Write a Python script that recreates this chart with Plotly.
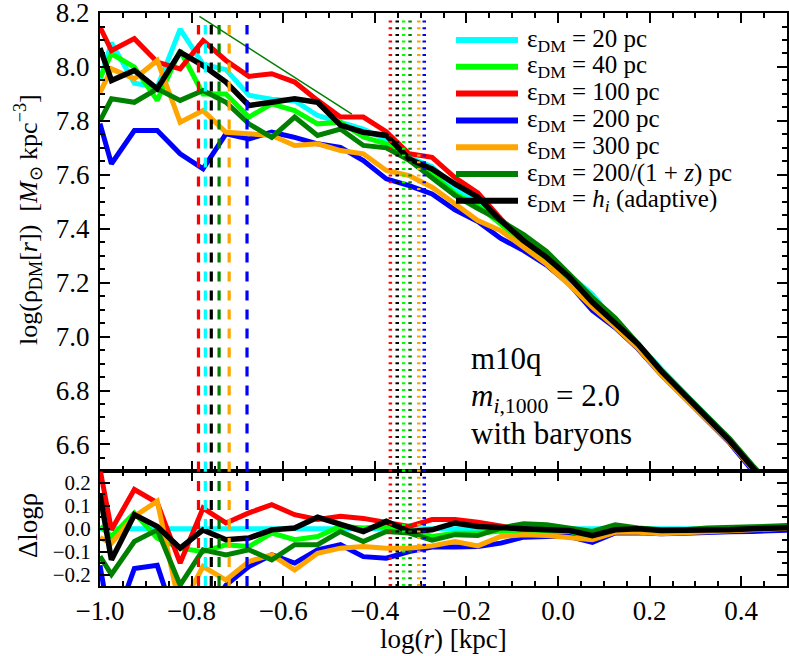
import plotly.graph_objects as go
from plotly.subplots import make_subplots

# radial bins, log10(r / kpc)
log_r = [-1.0, -0.975, -0.925, -0.875, -0.825, -0.775, -0.725, -0.675, -0.625, -0.575,
         -0.525, -0.475, -0.425, -0.375, -0.325, -0.275, -0.225, -0.175, -0.125, -0.075,
         -0.025, 0.025, 0.075, 0.125, 0.175, 0.225, 0.275, 0.325, 0.375, 0.425, 0.475, 0.525]

# log rho_DM [Msun kpc^-3]
rho_20pc = [7.95, 8.09, 7.94, 7.925, 8.14, 8.01, 7.99, 7.895, 7.88, 7.875, 7.82, 7.795,
            7.77, 7.73, 7.665, 7.63, 7.55, 7.505, 7.427, 7.356, 7.299, 7.228, 7.157, 7.052,
            6.972, 6.881, 6.795, 6.705, 6.618, 6.514, 6.42, 6.325]
rho_40pc = [7.96, 8.049, 7.999, 7.876, 8.061, 7.90, 7.90, 7.814, 7.863, 7.838, 7.789, 7.795,
            7.74, 7.715, 7.654, 7.604, 7.53, 7.485, 7.417, 7.346, 7.289, 7.213, 7.117, 7.042,
            6.962, 6.871, 6.785, 6.695, 6.608, 6.509, 6.42, 6.325]
rho_100pc = [8.148, 8.061, 8.105, 8.018, 7.993, 8.098, 8.024, 7.965, 7.975, 7.944, 7.876, 7.814,
             7.814, 7.76, 7.678, 7.665, 7.59, 7.533, 7.437, 7.351, 7.299, 7.223, 7.127, 7.047,
             6.962, 6.871, 6.785, 6.695, 6.613, 6.509, 6.42, 6.325]
rho_200pc = [7.79, 7.641, 7.764, 7.764, 7.678, 7.622, 7.752, 7.733, 7.758, 7.739, 7.715, 7.702,
             7.653, 7.585, 7.56, 7.529, 7.47, 7.427, 7.364, 7.319, 7.265, 7.194, 7.097, 7.033,
             6.954, 6.859, 6.775, 6.69, 6.605, 6.502, 6.412, 6.32]
rho_300pc = [7.905, 7.993, 7.956, 8.024, 7.795, 7.838, 7.758, 7.752, 7.746, 7.709, 7.715, 7.69,
             7.678, 7.616, 7.597, 7.554, 7.494, 7.43, 7.393, 7.33, 7.269, 7.191, 7.109, 7.036,
             6.956, 6.859, 6.776, 6.693, 6.608, 6.509, 6.42, 6.33]
rho_200z = [7.80, 7.882, 7.869, 7.919, 7.876, 7.913, 7.869, 7.789, 7.739, 7.814, 7.746, 7.77,
            7.709, 7.70, 7.654, 7.591, 7.524, 7.475, 7.43, 7.378, 7.316, 7.231, 7.145, 7.069,
            6.975, 6.876, 6.79, 6.708, 6.621, 6.522, 6.432, 6.34]
rho_adapt = [8.07, 7.95, 7.987, 7.919, 8.055, 8.005, 7.944, 7.857, 7.869, 7.882, 7.869, 7.784,
             7.758, 7.746, 7.659, 7.622, 7.566, 7.517, 7.43, 7.356, 7.294, 7.22, 7.127, 7.047,
             6.972, 6.873, 6.787, 6.70, 6.613, 6.514, 6.42, 6.33]

# delta log rho relative to the 20 pc run
d_20pc = [0.0, 0.0, 0.0, 0.0, 0.0, 0.0, 0.0, 0.0, 0.0, 0.0, 0.0, 0.0, 0.0, 0.0, 0.0, 0.0,
          0.0, 0.0, 0.0, 0.0, 0.0, 0.0, 0.0, 0.0, 0.0, 0.0, 0.0, 0.0, 0.0, 0.0, 0.0, 0.0]
d_40pc = [0.01, -0.034, 0.069, -0.041, -0.085, -0.10, -0.07, -0.078, -0.019, -0.048, -0.034, 0.01,
          0.003, 0.01, -0.005, -0.034, -0.02, -0.02, -0.01, -0.01, -0.01, -0.015, -0.04, -0.01,
          -0.01, -0.01, -0.01, -0.01, -0.01, -0.005, 0.0, 0.0]
d_100pc = [0.26, -0.005, 0.171, 0.113, -0.15, 0.09, 0.025, 0.069, 0.105, 0.061, 0.04, 0.054,
           0.045, 0.03, 0.01, 0.04, 0.04, 0.028, 0.01, -0.005, 0.0, -0.005, -0.03, -0.005,
           -0.01, -0.01, -0.01, -0.01, -0.005, -0.005, 0.0, 0.0]
d_200pc = [-0.16, -0.45, -0.174, -0.16, -0.46, -0.41, -0.246, -0.165, -0.114, -0.15, -0.092, -0.07,
           -0.122, -0.129, -0.10, -0.08, -0.08, -0.078, -0.063, -0.037, -0.034, -0.034, -0.06, -0.019,
           -0.018, -0.022, -0.02, -0.015, -0.013, -0.012, -0.008, -0.005]
d_300pc = [-0.04, -0.063, 0.054, 0.12, -0.35, -0.165, -0.224, -0.143, -0.114, -0.18, -0.107, -0.085,
           -0.078, -0.085, -0.085, -0.075, -0.056, -0.075, -0.034, -0.026, -0.03, -0.037, -0.048, -0.016,
           -0.016, -0.022, -0.019, -0.012, -0.01, -0.005, 0.0, 0.005]
d_200z = [-0.12, -0.2, -0.056, -0.005, -0.246, -0.092, -0.114, -0.092, -0.136, -0.07, -0.07, -0.012,
          -0.056, -0.012, -0.019, -0.05, -0.026, -0.03, 0.003, 0.022, 0.017, 0.003, -0.012, 0.017,
          0.003, -0.005, -0.005, 0.003, 0.003, 0.008, 0.012, 0.015]
d_adapt = [0.15, -0.136, 0.061, 0.01, -0.085, -0.005, -0.048, -0.041, -0.005, 0.003, 0.05, 0.017,
           -0.012, 0.032, -0.012, -0.005, 0.025, 0.01, 0.003, 0.0, -0.005, -0.008, -0.03, -0.005,
           0.0, -0.008, -0.008, -0.005, -0.005, 0.0, 0.0, 0.005]

labels = [
    "ε<sub>DM</sub> = 20 pc",
    "ε<sub>DM</sub> = 40 pc",
    "ε<sub>DM</sub> = 100 pc",
    "ε<sub>DM</sub> = 200 pc",
    "ε<sub>DM</sub> = 300 pc",
    "ε<sub>DM</sub> = 200/(1 + <i>z</i>) pc",
    "ε<sub>DM</sub> = <i>h<sub>i</sub></i> (adaptive)",
]
colors = ["#00ffff", "#00ff00", "#ff0000", "#0000ff", "#ffa500", "#008000", "#000000"]
profiles = [rho_20pc, rho_40pc, rho_100pc, rho_200pc, rho_300pc, rho_200z, rho_adapt]
deltas = [d_20pc, d_40pc, d_100pc, d_200pc, d_300pc, d_200z, d_adapt]

# convergence radii (dashed) and softening-related radii (dotted), log kpc
dashed_r = [-0.785, -0.770, -0.757, -0.740, -0.718, -0.679]
dashed_colors = ["#ff0000", "#00ffff", "#000000", "#008000", "#ffa500", "#0000ff"]
dotted_r = [-0.366, -0.351, -0.337, -0.323, -0.304, -0.292]
dotted_colors = ["#ff0000", "#000000", "#00ff00", "#008000", "#ffa500", "#0000ff"]

# reference power-law guide
guide_x = [-0.783, -0.45]
guide_y = [8.188, 7.825]

FONT = "Liberation Serif"
W, H = 789, 656
ML, MR, MT, MB = 100, 2, 13, 70

fig = make_subplots(rows=2, cols=1, shared_xaxes=True, vertical_spacing=0,
                    row_heights=[0.8, 0.2])

for prof, d, col in zip(profiles, deltas, colors):
    lw = 5.5 if col == "#000000" else 5
    fig.add_trace(go.Scatter(x=log_r, y=prof, mode="lines",
                             line=dict(color=col, width=lw), showlegend=False), row=1, col=1)
    fig.add_trace(go.Scatter(x=log_r, y=d, mode="lines",
                             line=dict(color=col, width=lw), showlegend=False), row=2, col=1)

fig.add_trace(go.Scatter(x=guide_x, y=guide_y, mode="lines",
                         line=dict(color="#008000", width=1.5), showlegend=False), row=1, col=1)

for r, c in zip(dashed_r, dashed_colors):
    fig.add_shape(type="line", xref="x", yref="y domain", x0=r, x1=r, y0=0, y1=0.974,
                  line=dict(color=c, width=3.2, dash="10px,9px"))
    fig.add_shape(type="line", xref="x2", yref="y2 domain", x0=r, x1=r, y0=0, y1=1,
                  line=dict(color=c, width=3.2, dash="10px,9px"))
for r, c in zip(dotted_r, dotted_colors):
    fig.add_shape(type="line", xref="x", yref="y domain", x0=r, x1=r, y0=0, y1=0.99,
                  line=dict(color=c, width=3.5, dash="2px,4.7px"))
    fig.add_shape(type="line", xref="x2", yref="y2 domain", x0=r, x1=r, y0=0, y1=1,
                  line=dict(color=c, width=3.5, dash="2px,4.7px"))

# legend drawn by hand so the handles are as long as in the original
ph = H - MT - MB
pw = W - ML - MR
def px_to_paper(xp, yp):
    return (xp - ML) / pw, 1 - (yp - MT) / ph

for i, (lab, col) in enumerate(zip(labels, colors)):
    yp = 40 + 26.8 * i
    x0, y = px_to_paper(456, yp)
    x1, _ = px_to_paper(518, yp)
    xt, _ = px_to_paper(525, yp)
    fig.add_shape(type="line", xref="paper", yref="paper", x0=x0, x1=x1, y0=y, y1=y,
                  line=dict(color=col, width=6))
    fig.add_annotation(xref="paper", yref="paper", x=xt, y=y, text=lab, showarrow=False,
                       xanchor="left", yanchor="middle",
                       font=dict(family=FONT, size=25, color="black"))

for txt, yv in [("m10q", 6.92), ("<i>m</i><sub><i>i</i>,1000</sub> = 2.0", 6.772),
                ("with baryons", 6.64)]:
    fig.add_annotation(xref="x", yref="y", x=-0.195, y=yv, text=txt, showarrow=False,
                       xanchor="left", yanchor="middle",
                       font=dict(family=FONT, size=31, color="black"))

# axis titles
fig.add_annotation(xref="paper", yref="paper", x=0, y=px_to_paper(0, 220)[1], xshift=-72,
                   text="log(ρ<sub>DM</sub>[<i>r</i>])  [<i>M</i><sub>⊙</sub> kpc<sup>−3</sup>]",
                   textangle=-90, showarrow=False, xanchor="center", yanchor="middle",
                   font=dict(family=FONT, size=26, color="black"))
fig.add_annotation(xref="paper", yref="paper", x=0, y=px_to_paper(0, 526)[1], xshift=-72,
                   text="Δlogρ", textangle=-90, showarrow=False,
                   xanchor="center", yanchor="middle",
                   font=dict(family=FONT, size=27, color="black"))
fig.add_annotation(xref="paper", yref="paper", x=0.5, y=0, yshift=-53,
                   text="log(<i>r</i>) [kpc]", showarrow=False,
                   xanchor="center", yanchor="middle",
                   font=dict(family=FONT, size=27, color="black"))

axis_common = dict(showline=True, linecolor="black", linewidth=2, mirror="allticks",
                   ticks="inside", ticklen=10, tickwidth=1.5, tickcolor="black",
                   showgrid=False, zeroline=False, automargin=False,
                   ticklabeloverflow="allow")
minor_common = dict(ticks="inside", ticklen=5, tickwidth=1.5, tickcolor="black")

fig.update_xaxes(range=[-1.0, 0.5], tick0=0, dtick=0.2, tickformat=".1f",
                 minor=dict(tick0=0, dtick=0.05, **minor_common),
                 tickfont=dict(family=FONT, size=27, color="black"),
                 ticklabelstandoff=0, **axis_common)
fig.update_xaxes(showticklabels=False, row=1, col=1)
fig.update_yaxes(range=[6.5, 8.2001], tick0=0, dtick=0.2, tickformat=".1f",
                 minor=dict(tick0=0, dtick=0.05, **minor_common),
                 tickfont=dict(family=FONT, size=27, color="black"),
                 ticklabelstandoff=3, row=1, col=1, **axis_common)
fig.update_yaxes(range=[-0.25, 0.25], tick0=0, dtick=0.1, tickformat=".1f",
                 minor=dict(tick0=0, dtick=0.05, **minor_common),
                 tickfont=dict(family=FONT, size=21, color="black"),
                 ticklabelstandoff=3, row=2, col=1, **axis_common)

fig.update_layout(width=W, height=H, margin=dict(l=ML, r=MR, t=MT, b=MB),
                  plot_bgcolor="white", paper_bgcolor="white", showlegend=False,
                  font=dict(family=FONT, color="black"))

# drop the browser's default 8px body margin so the figure fills the window exactly
fig.write_html("out.html", config={"displayModeBar": False},
               post_script="document.body.style.margin='0';")
